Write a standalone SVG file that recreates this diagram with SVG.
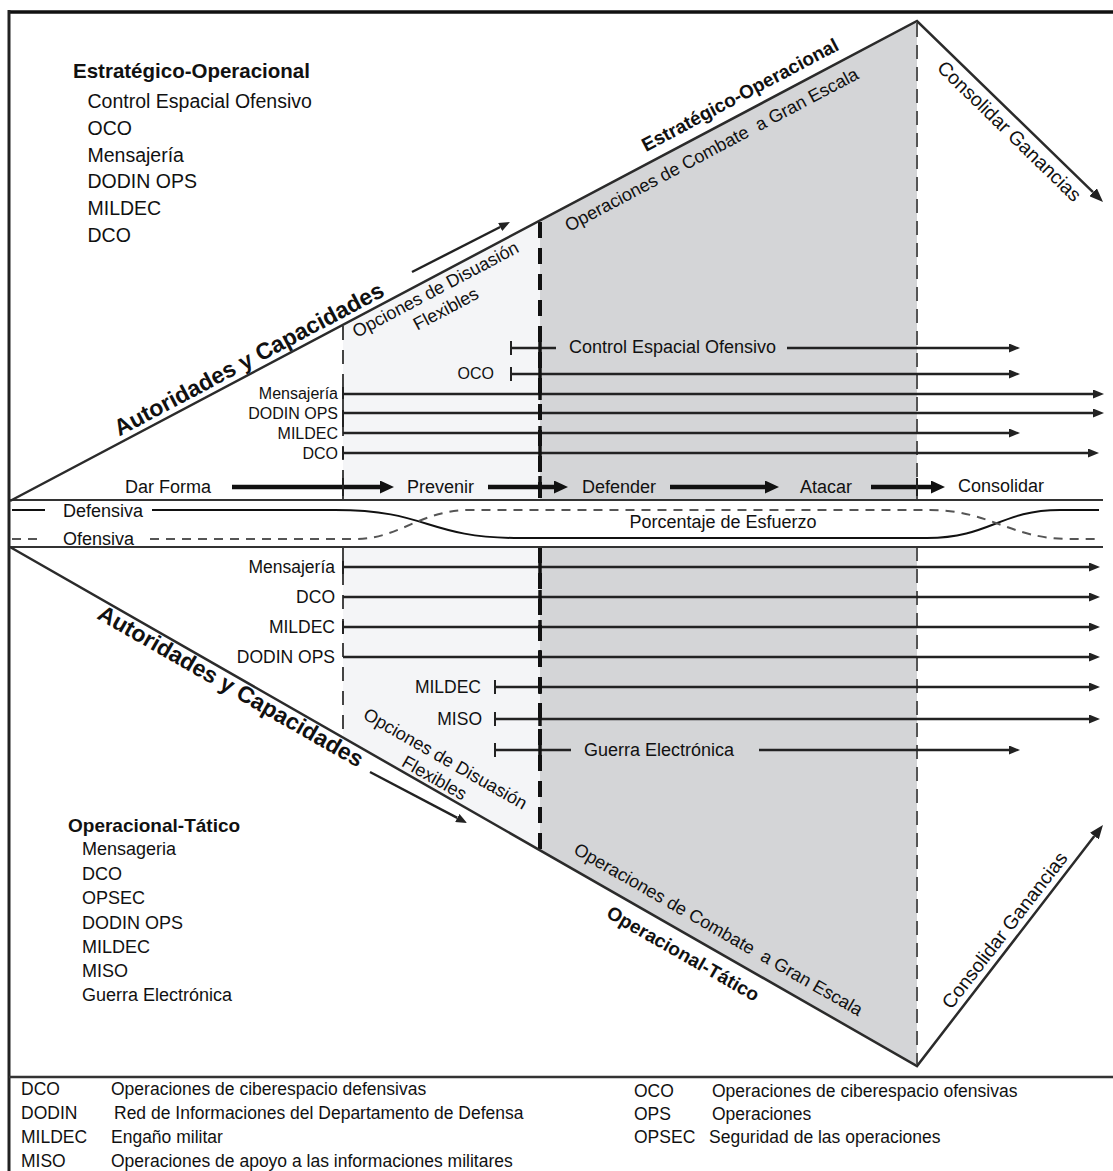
<svg xmlns="http://www.w3.org/2000/svg" width="1113" height="1171" viewBox="0 0 1113 1171">
<style>
.t{font-family:"Liberation Sans",Arial,sans-serif;fill:#111}
.h1{font-size:20.5px;font-weight:bold}
.i1{font-size:19.5px}
.h2{font-size:19px;font-weight:bold}
.i2{font-size:18px}
.lbl{font-size:18px}
.rt{font-size:16px;text-anchor:end}
.rb{font-size:17.5px;text-anchor:end}
.lg{font-size:17.5px}
.big{font-size:23px;font-weight:bold}
.so{font-size:19px;font-weight:bold}
.cg{font-size:19.5px}
.row{stroke:#222;stroke-width:2.4;fill:none}
.ph{stroke:#111;stroke-width:4.5;fill:none}
.tk{stroke:#222;stroke-width:2}
.tk3{stroke:#111;stroke-width:3.5}
.diag{stroke:#2b2b2b;stroke-width:2.5;fill:none}
.band{stroke:#333;stroke-width:2;fill:none}
.dl{stroke:#444;stroke-width:2;stroke-dasharray:14 10;fill:none}
.dt{stroke:#111;stroke-width:4;stroke-dasharray:16 10;fill:none}
.dr{stroke:#555;stroke-width:2;stroke-dasharray:14 8;fill:none}
</style>
<defs>
<marker id="ah" markerUnits="userSpaceOnUse" markerWidth="11" markerHeight="9" refX="0" refY="4.5" orient="auto"><path d="M0,0 L11,4.5 L0,9 z" fill="#222"/></marker>
<marker id="ahp" markerUnits="userSpaceOnUse" markerWidth="14" markerHeight="13" refX="0" refY="6.5" orient="auto"><path d="M0,0 L14,6.5 L0,13 z" fill="#111"/></marker>
<marker id="ahd" markerUnits="userSpaceOnUse" markerWidth="14" markerHeight="11" refX="0" refY="5.5" orient="auto"><path d="M0,0 L14,5.5 L0,11 z" fill="#222"/></marker>
</defs>
<rect width="1113" height="1171" fill="#fff"/>

<g id="regions">
<polygon points="343,324.8 540,220.5 540,500 343,500" fill="#f4f5f7"/>
<polygon points="540,220.5 917,21 917,500 540,500" fill="#d4d5d7"/>
<polygon points="343,547 540,547 540,850.3 343,737.5" fill="#f4f5f7"/>
<polygon points="540,547 917,547 917,1066 540,850.3" fill="#d4d5d7"/>
</g>

<g id="frame">
<line x1="8" y1="12" x2="1113" y2="12" stroke="#111" stroke-width="3.5"/>
<line x1="9" y1="10" x2="9" y2="1171" stroke="#222" stroke-width="3"/>
<line x1="9" y1="1077" x2="1113" y2="1077" stroke="#333" stroke-width="2.5"/>
</g>

<g id="phase-dividers">
<line class="dl" x1="343" y1="326" x2="343" y2="500"/>
<line class="dl" x1="343" y1="547" x2="343" y2="737"/>
<line class="dt" x1="540" y1="222" x2="540" y2="500"/>
<line class="dt" x1="540" y1="547" x2="540" y2="849"/>
<line class="dr" x1="917" y1="23" x2="917" y2="500"/>
<line class="dr" x1="917" y1="547" x2="917" y2="1064"/>
</g>

<g id="band">
<line class="band" x1="10" y1="500" x2="1103" y2="500"/>
<line class="band" x1="10" y1="547" x2="1103" y2="547"/>
<path d="M12,510 H45 M152,510 H335 C430,510 425,538 520,538 H927 C990,538 1000,510 1060,510 H1099" stroke="#111" stroke-width="2" fill="none"/>
<path d="M12,539 H40 M150,539 H355 C400,539 420,510 470,510 H930 C990,510 1010,539 1070,539 H1099" stroke="#555" stroke-width="2" stroke-dasharray="9 7" fill="none"/>
<text class="t lbl" x="63" y="517">Defensiva</text>
<text class="t lbl" x="63" y="545">Ofensiva</text>
<text class="t lbl" x="629.5" y="528">Porcentaje de Esfuerzo</text>
</g>

<g id="connectors">
<!-- main diagonals -->
<polyline class="diag" points="10,501 917,21 1093,192.2" marker-end="url(#ahd)"/>
<polyline class="diag" points="10,547 917,1066 1094.4,836.1" marker-end="url(#ahd)"/>
<line class="row" x1="412" y1="272" x2="500.2" y2="227" marker-end="url(#ah)"/>
<line class="row" x1="370" y1="772" x2="457.3" y2="817.9" marker-end="url(#ah)"/>
<!-- phase arrows -->
<line class="ph" x1="232" y1="487" x2="380" y2="487" marker-end="url(#ahp)"/>
<line class="ph" x1="488" y1="487" x2="554" y2="487" marker-end="url(#ahp)"/>
<line class="ph" x1="670" y1="487" x2="765" y2="487" marker-end="url(#ahp)"/>
<line class="ph" x1="871" y1="487" x2="931" y2="487" marker-end="url(#ahp)"/>
<line class="tk" x1="343" y1="478" x2="343" y2="496"/>
<line class="tk3" x1="540" y1="476" x2="540" y2="498"/>
<line class="tk" x1="917" y1="478" x2="917" y2="496"/>
<!-- top rows -->
<line class="row" x1="511" y1="348" x2="556" y2="348"/>
<line class="row" x1="787" y1="348" x2="1009" y2="348" marker-end="url(#ah)"/>
<line class="row" x1="511" y1="374" x2="1009" y2="374" marker-end="url(#ah)"/>
<line class="row" x1="343" y1="394" x2="1093" y2="394" marker-end="url(#ah)"/>
<line class="row" x1="343" y1="413" x2="1093" y2="413" marker-end="url(#ah)"/>
<line class="row" x1="343" y1="433" x2="1009" y2="433" marker-end="url(#ah)"/>
<line class="row" x1="343" y1="453" x2="1088" y2="453" marker-end="url(#ah)"/>
<line class="tk" x1="511" y1="341" x2="511" y2="355"/>
<line class="tk" x1="511" y1="367" x2="511" y2="381"/>
<line class="tk" x1="343" y1="387" x2="343" y2="399"/>
<line class="tk" x1="343" y1="410" x2="343" y2="427"/>
<line class="tk" x1="343" y1="447" x2="343" y2="459"/>
<line class="tk3" x1="540" y1="341" x2="540" y2="355"/>
<line class="tk3" x1="540" y1="367" x2="540" y2="381"/>
<line class="tk3" x1="540" y1="387" x2="540" y2="400"/>
<line class="tk3" x1="540" y1="406" x2="540" y2="420"/>
<line class="tk3" x1="540" y1="426" x2="540" y2="440"/>
<line class="tk3" x1="540" y1="446" x2="540" y2="460"/>
<!-- bottom rows -->
<line class="row" x1="343" y1="567" x2="1089" y2="567" marker-end="url(#ah)"/>
<line class="row" x1="343" y1="597" x2="1089" y2="597" marker-end="url(#ah)"/>
<line class="row" x1="343" y1="627" x2="1089" y2="627" marker-end="url(#ah)"/>
<line class="row" x1="343" y1="657" x2="1089" y2="657" marker-end="url(#ah)"/>
<line class="row" x1="495" y1="687" x2="1089" y2="687" marker-end="url(#ah)"/>
<line class="row" x1="495" y1="719" x2="1089" y2="719" marker-end="url(#ah)"/>
<line class="row" x1="495" y1="750" x2="571" y2="750"/>
<line class="row" x1="759" y1="750" x2="1009" y2="750" marker-end="url(#ah)"/>
<line class="tk" x1="343" y1="561" x2="343" y2="574"/>
<line class="tk" x1="343" y1="621" x2="343" y2="634"/>
<line class="tk" x1="495" y1="680" x2="495" y2="694"/>
<line class="tk" x1="495" y1="712" x2="495" y2="726"/>
<line class="tk" x1="495" y1="743" x2="495" y2="757"/>
<line class="tk3" x1="540" y1="560" x2="540" y2="574"/>
<line class="tk3" x1="540" y1="590" x2="540" y2="604"/>
<line class="tk3" x1="540" y1="620" x2="540" y2="634"/>
<line class="tk3" x1="540" y1="650" x2="540" y2="664"/>
<line class="tk3" x1="540" y1="680" x2="540" y2="694"/>
<line class="tk3" x1="540" y1="712" x2="540" y2="726"/>
<line class="tk3" x1="540" y1="743" x2="540" y2="757"/>
</g>

<g id="phase-labels">
<text class="t lbl" x="125" y="493">Dar Forma</text>
<text class="t lbl" x="407" y="493">Prevenir</text>
<text class="t lbl" x="582" y="493">Defender</text>
<text class="t lbl" x="800" y="493">Atacar</text>
<text class="t lbl" x="958" y="492">Consolidar</text>
</g>

<g id="row-labels-top">
<text class="t lbl" x="569" y="353">Control Espacial Ofensivo</text>
<text class="t rt" x="494" y="379">OCO</text>
<text class="t rt" x="338" y="399">Mensajería</text>
<text class="t rt" x="338" y="419">DODIN OPS</text>
<text class="t rt" x="338" y="439">MILDEC</text>
<text class="t rt" x="338" y="459">DCO</text>
</g>

<g id="row-labels-bottom">
<text class="t rb" x="335" y="573">Mensajería</text>
<text class="t rb" x="335" y="603">DCO</text>
<text class="t rb" x="335" y="633">MILDEC</text>
<text class="t rb" x="335" y="663">DODIN OPS</text>
<text class="t rb" x="481" y="693">MILDEC</text>
<text class="t rb" x="482" y="725">MISO</text>
<text class="t lbl" x="584" y="756">Guerra Electrónica</text>
</g>

<g id="diagonal-labels-top">
<text class="t big" transform="translate(119.2,436.4) rotate(-27.89)">Autoridades y Capacidades</text>
<g transform="translate(438.4,294.8) rotate(-27.89)">
<text class="t lbl" text-anchor="middle" x="0" y="0">Opciones de Disuasión</text>
<text class="t lbl" text-anchor="middle" x="0" y="22">Flexibles</text>
</g>
<text class="t so" transform="translate(646,152) rotate(-27.89)">Estratégico-Operacional</text>
<text class="t lbl" xml:space="preserve" transform="translate(569,232) rotate(-27.89)">Operaciones de Combate  a Gran Escala</text>
<text class="t cg" transform="translate(936,69) rotate(44.2)">Consolidar Ganancias</text>
</g>

<g id="diagonal-labels-bottom">
<text class="t big" transform="translate(96,618) rotate(29.78)">Autoridades y Capacidades</text>
<g transform="translate(431.4,783.1) rotate(29.78)">
<text class="t lbl" text-anchor="middle" x="0" y="-22">Opciones de Disuasión</text>
<text class="t lbl" text-anchor="middle" x="0" y="0">Flexibles</text>
</g>
<text class="t so" transform="translate(605.2,916.6) rotate(29.78)">Operacional-Tático</text>
<text class="t lbl" xml:space="preserve" transform="translate(572.5,853) rotate(29.78)">Operaciones de Combate  a Gran Escala</text>
<text class="t cg" transform="translate(951.2,1010.2) rotate(-52.3)">Consolidar Ganancias</text>
</g>

<g id="list-strategic">
<text class="t h1" x="73" y="78">Estratégico-Operacional</text>
<text class="t i1" x="87.5" y="108">Control Espacial Ofensivo</text>
<text class="t i1" x="87.5" y="135">OCO</text>
<text class="t i1" x="87.5" y="162">Mensajería</text>
<text class="t i1" x="87.5" y="188">DODIN OPS</text>
<text class="t i1" x="87.5" y="215">MILDEC</text>
<text class="t i1" x="87.5" y="242">DCO</text>
</g>

<g id="list-tactical">
<text class="t h2" x="68" y="832">Operacional-Tático</text>
<text class="t i2" x="82" y="855">Mensageria</text>
<text class="t i2" x="82" y="880">DCO</text>
<text class="t i2" x="82" y="904">OPSEC</text>
<text class="t i2" x="82" y="929">DODIN OPS</text>
<text class="t i2" x="82" y="953">MILDEC</text>
<text class="t i2" x="82" y="977">MISO</text>
<text class="t i2" x="82" y="1001">Guerra Electrónica</text>
</g>

<g id="legend">
<text class="t lg" x="21" y="1095">DCO</text>
<text class="t lg" x="111" y="1095">Operaciones de ciberespacio defensivas</text>
<text class="t lg" x="21" y="1119">DODIN</text>
<text class="t lg" x="114" y="1119">Red de Informaciones del Departamento de Defensa</text>
<text class="t lg" x="21" y="1143">MILDEC</text>
<text class="t lg" x="111" y="1143">Engaño militar</text>
<text class="t lg" x="21" y="1167">MISO</text>
<text class="t lg" x="111" y="1167">Operaciones de apoyo a las informaciones militares</text>
<text class="t lg" x="634" y="1097">OCO</text>
<text class="t lg" x="712" y="1097">Operaciones de ciberespacio ofensivas</text>
<text class="t lg" x="634" y="1120">OPS</text>
<text class="t lg" x="712" y="1120">Operaciones</text>
<text class="t lg" x="634" y="1143">OPSEC</text>
<text class="t lg" x="709" y="1143">Seguridad de las operaciones</text>
</g>
</svg>
